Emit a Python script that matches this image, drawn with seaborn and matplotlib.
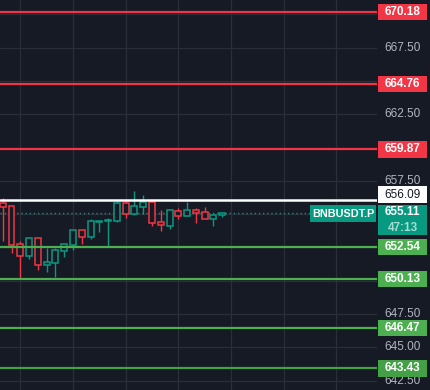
import matplotlib
matplotlib.use("Agg")
import matplotlib.pyplot as plt
from matplotlib.patches import Rectangle
import seaborn as sns
import pandas as pd

# ---------------- data ----------------
opens  = [655.82, 655.62, 652.74, 651.89, 653.19, 651.21, 651.36, 652.26, 652.71, 653.79,
          653.32, 654.44, 654.52, 654.47, 655.84, 655.04, 655.57, 655.89, 654.39, 654.14,
          655.27, 654.89, 655.29, 655.14, 654.62, 654.92]
highs  = [656.19, 655.65, 652.97, 653.32, 653.22, 652.49, 652.49, 652.76, 653.81, 653.81,
          654.64, 654.50, 654.72, 655.99, 656.07, 656.74, 656.44, 656.04, 655.32, 655.37,
          655.47, 655.92, 655.47, 655.54, 654.93, 655.12]
lows   = [652.99, 652.11, 650.11, 651.64, 650.81, 650.66, 650.29, 651.79, 652.31, 652.76,
          653.14, 653.67, 652.57, 654.42, 654.74, 654.97, 655.04, 654.14, 653.77, 653.92,
          654.64, 654.88, 654.37, 654.61, 654.14, 654.77]
closes = [655.57, 652.71, 651.89, 653.19, 651.21, 651.39, 652.29, 652.74, 653.79, 653.32,
          654.47, 654.49, 654.57, 655.84, 655.04, 655.59, 655.89, 654.37, 654.17, 655.29,
          654.89, 655.29, 655.09, 654.62, 654.92, 655.11]

resistance_levels = [670.18, 664.76, 659.87]
support_levels = [652.54, 650.13, 646.47, 643.43]
white_level = 656.09
last_price = 655.11
symbol = "BNBUSDT.P"
countdown = "47:13"
y_ticks = [642.5, 645.0, 647.5, 650.0, 652.5, 655.0, 657.5, 660.0, 662.5, 665.0, 667.5, 670.0]
y_tick_labels_shown = [642.5, 645.0, 647.5, 657.5, 662.5, 667.5]

df = pd.DataFrame({"open": opens, "high": highs, "low": lows, "close": closes})
df["idx"] = range(len(df))

# ---------------- style ----------------
BG = "#161A25"
GRID = "#2A2E39"
UP = "#089981"
DOWN = "#F23645"
GREEN = "#4CAF50"
TICK = "#B2B5BE"

sns.set_style("dark", {"axes.facecolor": BG, "figure.facecolor": BG})
plt.rcParams["font.family"] = ["Liberation Sans", "DejaVu Sans"]

W, H = 431, 390
fig = plt.figure(figsize=(W / 100, H / 100), dpi=100)
fig.patch.set_facecolor(BG)
plot_w = 377
ax = fig.add_axes([0, 0, plot_w / W, 1])
ax.set_facecolor(BG)
YMIN, YMAX = 641.80, 671.08
XMIN, XMAX = -0.31, 42.63
ax.set_ylim(YMIN, YMAX)
ax.set_xlim(XMIN, XMAX)
for s in ax.spines.values():
    s.set_visible(False)
ax.set_xticks([2, 8, 14, 20, 26, 32, 38])
ax.set_yticks(y_ticks)
ax.tick_params(length=0, labelleft=False, labelbottom=False)
ax.grid(True, color=GRID, linewidth=0.9)
ax.set_axisbelow(True)

# wicks
colors = [UP if c >= o else DOWN for o, c in zip(df["open"], df["close"])]
ax.vlines(df["idx"], df["low"], df["high"], colors=colors, linewidth=1.0, zorder=3)
# hollow bodies
bottoms = [min(o, c) for o, c in zip(df["open"], df["close"])]
heights = [max(abs(c - o), 0.04) for o, c in zip(df["open"], df["close"])]
ax.bar(df["idx"], heights, bottom=bottoms, width=0.68, color=BG,
       edgecolor=colors, linewidth=1.1, zorder=4)

# horizontal levels
for lv in resistance_levels:
    ax.axhline(lv, color=DOWN, linewidth=1.6, zorder=5)
for k, lv in enumerate(support_levels):
    ax.axhline(lv, color=GREEN if k < 3 else "#43A047", linewidth=1.6, zorder=5)
ax.axhline(white_level, color="white", linewidth=1.8, zorder=5)
ax.plot([XMIN, XMIN + (310 / 8.78)], [last_price, last_price], color=UP,
        linewidth=1.0, linestyle=(0, (1, 2)), zorder=2)

# ---------------- right price scale ----------------
def fy(price):
    return (price - YMIN) / (YMAX - YMIN)

def fx(px):
    return px / W

label_cx = fx(402.5)
for t in y_tick_labels_shown:
    fig.text(label_cx, fy(t), f"{t:.2f}", color=TICK, fontsize=8.5,
             ha="center", va="center", zorder=1)

def box(price_center_px, x0, x1, hpx, fc, zorder=5):
    r = Rectangle((fx(x0), 1 - (price_center_px + hpx / 2) / H), fx(x1) - fx(x0), hpx / H,
                  transform=fig.transFigure, facecolor=fc, edgecolor="none", zorder=zorder)
    fig.add_artist(r)

def ypx(price):
    return (YMAX - price) / (YMAX - YMIN) * H

# price label boxes
for lv in resistance_levels:
    c = ypx(lv)
    box(c, 378, 427, 16.5, DOWN)
    fig.text(label_cx, 1 - c / H, f"{lv:.2f}", color="white", fontsize=8.5,
             fontweight="bold", ha="center", va="center", zorder=6)
for k, lv in enumerate(support_levels):
    c = ypx(lv)
    box(c, 378, 427, 16.5, GREEN if k < 3 else "#43A047")
    fig.text(label_cx, 1 - c / H, f"{lv:.2f}", color="white", fontsize=8.5,
             fontweight="bold", ha="center", va="center", zorder=6)

# white level label (shifted up to avoid overlap)
wc = 194.5
box(wc, 378, 427, 16.5, "white")
fig.text(label_cx, 1 - wc / H, f"{white_level:.2f}", color="#131722", fontsize=8.5,
         ha="center", va="center", zorder=6)

# current price label with countdown
box(220, 378, 427, 30, UP, zorder=7)
fig.text(label_cx, 1 - 212.5 / H, f"{last_price:.2f}", color="white", fontsize=8.5,
         fontweight="bold", ha="center", va="center", zorder=8)
fig.text(label_cx, 1 - 227.5 / H, countdown, color="#A6DCD2", fontsize=8.5,
         fontweight="bold", ha="center", va="center", zorder=8)

# symbol box
box(213.5, 310, 376, 17, UP, zorder=7)
fig.text(fx(343), 1 - 213.5 / H, symbol, color="white", fontsize=7.8,
         fontweight="bold", ha="center", va="center", zorder=8)

fig.savefig("out.png", dpi=100, facecolor=BG)
